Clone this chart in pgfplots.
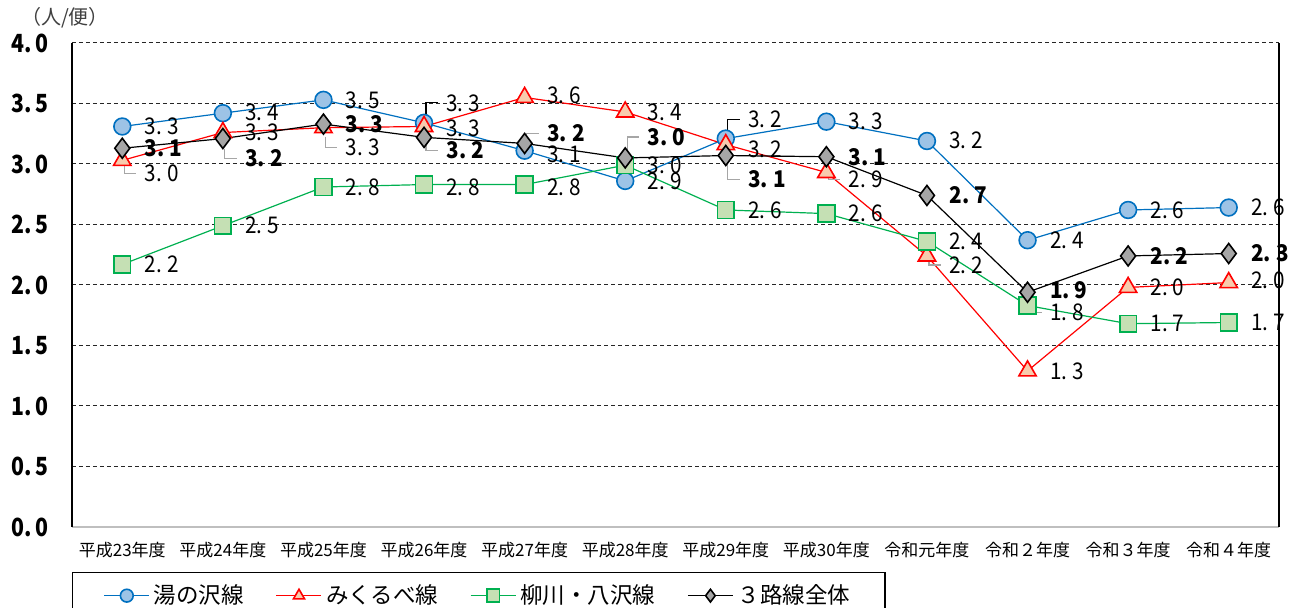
\documentclass[border=0pt]{standalone}
\usepackage{pgfplots}
\pgfplotsset{compat=1.18}
\usepackage{pgfplotstable}
\usepackage{fontspec}
\setmainfont{Noto Sans CJK JP}
\newfontfamily\labfont[FakeStretch=0.9]{Noto Sans CJK JP}
\newfontfamily\tickfont[FakeStretch=0.85]{Noto Sans CJK JP}
\definecolor{cblue}{HTML}{0070C0}
\definecolor{fblue}{HTML}{9DC3E6}
\definecolor{cred}{HTML}{FF0000}
\definecolor{fred}{HTML}{F8CBAD}
\definecolor{cgreen}{HTML}{00B050}
\definecolor{fgreen}{HTML}{C5E0B4}
\definecolor{fgray}{HTML}{A6A6A6}
\definecolor{lgray}{HTML}{A6A6A6}

\pgfplotstableread{
x y lab dy
0 3.31 3.3 0
1 3.42 3.4 0.5
2 3.53 3.5 0
3 3.34 3.3 10
4 3.11 3.1 -2
5 2.86 2.9 0
6 3.21 3.2 9.5
7 3.35 3.3 0
8 3.19 3.2 0.5
9 2.37 2.4 0
10 2.62 2.6 0
11 2.64 2.6 0
}\blue
\pgfplotstableread{
x y lab dy
0 3.03 3.0 -6.5
1 3.26 3.3 0
2 3.30 3.3 -10
3 3.31 3.3 -1
4 3.55 3.6 1
5 3.43 3.4 0
6 3.16 3.2 -2.5
7 2.93 2.9 -3.5
8 2.24 2.2 -4.5
9 1.29 1.3 0
10 1.98 2.0 0
11 2.02 2.0 1
}\red
\pgfplotstableread{
x y lab dy
0 2.17 2.2 0
1 2.49 2.5 0
2 2.81 2.8 0
3 2.83 2.8 -1.5
4 2.83 2.8 -1.5
5 2.99 3.0 0
6 2.62 2.6 0
7 2.59 2.6 0
8 2.36 2.4 0
9 1.83 1.8 -3.5
10 1.68 1.7 0
11 1.69 1.7 0
}\green
\pgfplotstableread{
x y lab dy
0 3.13 3.1 0
1 3.21 3.2 -10
2 3.33 3.3 0
3 3.22 3.2 -6.5
4 3.17 3.2 5
5 3.05 3.0 10.5
6 3.07 3.1 -12
7 3.06 3.1 0
8 2.74 2.7 0
9 1.94 1.9 1
10 2.24 2.2 0
11 2.26 2.3 0
}\total

\pgfplotsset{
  lab/.style={
    point meta=explicit,
    visualization depends on={\thisrow{dy} \as \dy},
    nodes near coords={\pgfmathprintnumber[fixed,fixed zerofill,precision=1,dec sep={.\:}]{\pgfplotspointmeta}},
    every node near coord/.append style={anchor=west, xshift=7.5pt, yshift=\dy pt, text=black, font=\labfont\fontsize{11.5}{12}\selectfont},
  },
}
% leader line: x, y, start offset, end offset (pt), colour
\newcommand\leader[5]{\draw[#5, line width=0.6pt] ([shift={(1pt,#3pt)}]axis cs:#1,#2) -- ([shift={(1pt,#4pt)}]axis cs:#1,#2) -- ([shift={(7pt,#4pt)}]axis cs:#1,#2);}

\begin{document}
\begin{tikzpicture}
\useasboundingbox (-36pt,-40.5pt) rectangle (610pt,263.5pt);
\begin{axis}[
  scale only axis,
  width=603.5pt, height=242pt,
  xmin=-0.5, xmax=11.5,
  ymin=0, ymax=4,
  xtick={0,...,11},
  xticklabels={平成23年度,平成24年度,平成25年度,平成26年度,平成27年度,平成28年度,平成29年度,平成30年度,令和元年度,令和２年度,令和３年度,令和４年度},
  ytick={0,0.5,...,4},
  major tick length=0pt,
  ymajorgrids,
  grid style={black!85, dash pattern=on 2pt off 1.5pt, line width=0.5pt},
  axis x line*=bottom,
  axis y line*=left,
  x axis line style={draw=black!25, line width=0.8pt},
  y axis line style={black, line width=0.7pt},
  /pgf/number format/assume math mode=true,
  yticklabel={\pgfmathprintnumber[fixed,fixed zerofill,precision=1,dec sep={.\,}]{\tick}},
  yticklabel style={font=\tickfont\fontsize{12.5}{12}\selectfont\bfseries, xshift=-8pt},
  xticklabel style={font=\fontsize{8.5}{10}\selectfont, yshift=-4pt},
  legend columns=4,
  legend style={at={(rel axis cs:0,0)}, anchor=north west, yshift=-22.5pt,
    draw=black, line width=0.7pt, font=\fontsize{11.25}{13}\selectfont,
    inner xsep=15.5pt, inner ysep=4pt,
    /tikz/every even column/.append style={column sep=14pt}},
  legend image code/.code={\draw[mark repeat=2,mark phase=2,mark size=3.2pt] plot coordinates {(0pt,0pt)(11.25pt,0pt)(22.5pt,0pt)};},
  clip=false,
]
\addplot[cblue, line width=0.6pt, mark=*, mark size=4.2pt, mark options={fill=fblue, draw=cblue, line width=0.8pt}, lab] table[x=x,y=y,meta=lab]{\blue};
\addlegendentry{湯の沢線}
\addplot[cred, line width=0.6pt, mark=triangle*, mark size=5pt, mark options={fill=fred, draw=cred, line width=0.8pt}, lab] table[x=x,y=y,meta=lab]{\red};
\addlegendentry{みくるべ線}
\addplot[cgreen, line width=0.6pt, mark=square*, mark size=4.2pt, mark options={fill=fgreen, draw=cgreen, line width=0.8pt}, lab] table[x=x,y=y,meta=lab]{\green};
\addlegendentry{柳川・八沢線}
\addplot[black, line width=0.6pt, mark=diamond*, mark size=5pt, mark options={fill=fgray, draw=black, line width=0.8pt}, lab, every node near coord/.append style={font=\labfont\fontsize{11.5}{12}\selectfont\bfseries}] table[x=x,y=y,meta=lab]{\total};
\addlegendentry{３路線全体}
\draw[black, line width=0.7pt] (rel axis cs:1,0) -- (rel axis cs:1,1);
\leader{0}{3.03}{-2.5}{-6.5}{lgray}
\leader{1}{3.21}{-5}{-10}{lgray}
\leader{2}{3.30}{-4.5}{-10}{lgray}
\leader{3}{3.34}{3}{10}{black}
\leader{3}{3.22}{-4}{-6.5}{lgray}
\leader{4}{3.17}{4}{5}{lgray}
\leader{5}{3.05}{4}{10.5}{lgray}
\leader{6}{3.21}{4}{9.5}{black}
\leader{6}{3.07}{-4}{-12}{lgray}
\leader{7}{2.93}{-2}{-3.5}{lgray}
\leader{8}{2.24}{-2}{-4.5}{lgray}
\leader{9}{1.83}{-1}{-3.5}{lgray}
\end{axis}
\node[text=black!75, font=\fontsize{10}{11}\selectfont] at (-3.5pt,254.5pt) {（人/便）};
\end{tikzpicture}
\end{document}
